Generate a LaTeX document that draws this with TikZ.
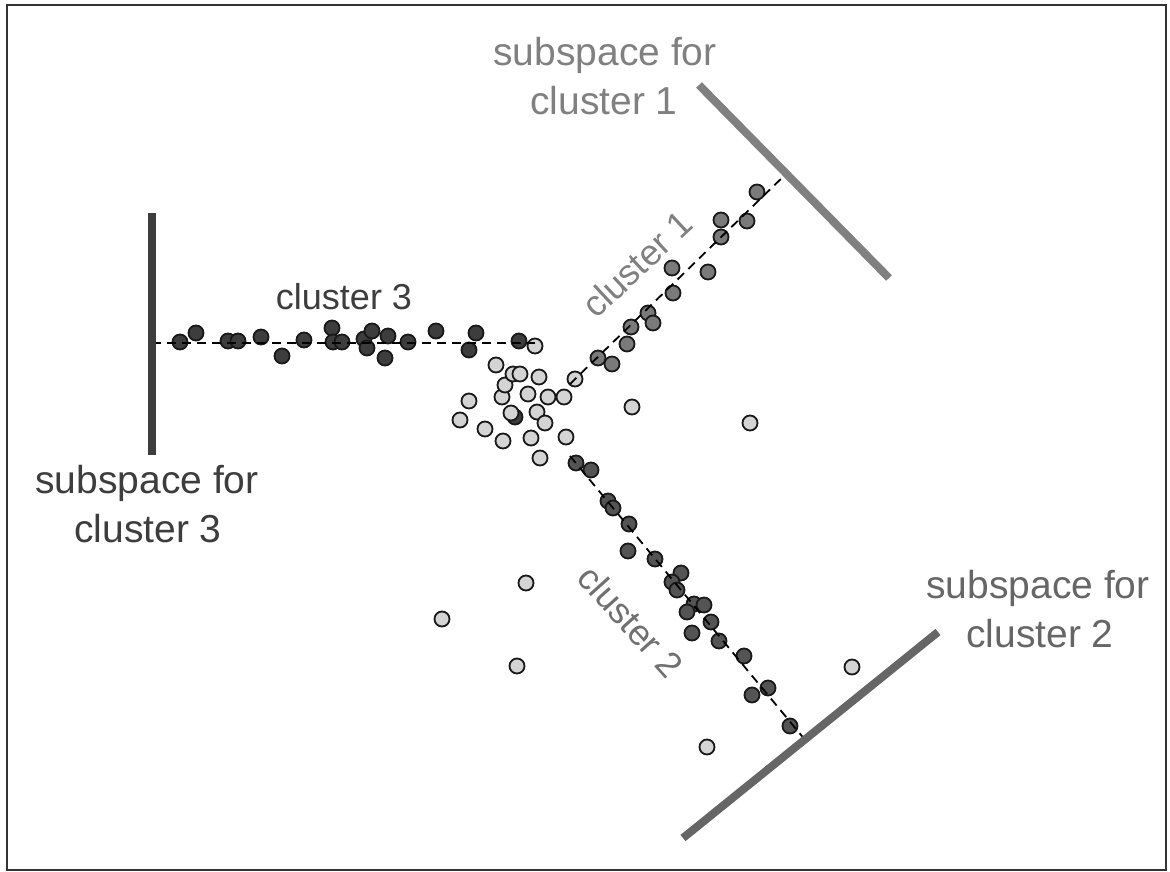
\documentclass[tikz,border=0pt]{standalone}
\usepackage{fontspec}
\setmainfont{Liberation Sans}
\begin{document}
\begin{tikzpicture}[x=1pt,y=-1pt,
  dot/.style={circle,draw=black!90,line width=1.8pt,minimum size=15pt,inner sep=0pt},
  cA/.style={dot,fill=black!52},
  cB/.style={dot,fill=black!67},
  cC/.style={dot,fill=black!76},
  cO/.style={dot,fill=black!17},
  subsp/.style={line width=8pt},
  fit line/.style={dashed,dash pattern=on 9pt off 6pt,line width=1.8pt},
  biglbl/.style={font=\fontsize{39}{49}\selectfont,anchor=base,inner sep=0pt},
  clbl/.style={font=\fontsize{36}{42}\selectfont,inner sep=0pt}]
\useasboundingbox (0,0) rectangle (1170,872);
\fill[white] (0,0) rectangle (1170,872);
\draw[line width=2pt,black!80] (7,5) rectangle (1166,870);

% subspace segments
\coordinate (s1a) at (699,85);  \coordinate (s1b) at (889,278);
\coordinate (s2a) at (683,838); \coordinate (s2b) at (938,632);
\coordinate (s3a) at (152,213); \coordinate (s3b) at (152,455);
% ends of the fitted lines
\coordinate (f3a) at (152,343); \coordinate (f3b) at (535,343);
\coordinate (f1a) at (570,384); \coordinate (f1b) at (788,172);
\coordinate (f2a) at (570,456); \coordinate (f2b) at (806,741);

% unassigned / central points
\foreach \p [count=\i] in {(460,420),(469,401),(485,429),(496,365),(502,397),(503,441),
  (505,385),(513,374),(520,374),(528,394),(531,438),(537,412),(545,423),(539,377),
  (548,397),(564,397),(566,437),(540,458),(535,346),(575,379),(632,407),(750,423),
  (526,583),(442,619),(517,666),(852,667),(707,747)}
  \node[cO] (o\i) at \p {};
\node[cC] (c3x) at (515,417) {};
\node[cO] (oc) at (511,413) {};

% cluster 3
\foreach \p [count=\i] in {(180,342),(196,333),(228,341),(238,341),(261,337),(282,356),
  (304,340),(332,328),(333,342),(342,342),(364,339),(372,331),(367,348),(388,336),
  (385,358),(408,342),(436,331),(469,350),(476,333),(519,341)}
  \node[cC] (k\i) at \p {};
% cluster 1
\foreach \p [count=\i] in {(598,358),(612,364),(627,344),(631,327),(648,313),(653,323),
  (673,293),(672,268),(708,272),(721,237),(721,220),(747,221),(757,192)}
  \node[cA] (a\i) at \p {};
% cluster 2
\foreach \p [count=\i] in {(576,463),(591,470),(608,501),(613,508),(629,524),(628,551),
  (655,559),(681,573),(672,582),(677,590),(694,604),(704,605),(687,612),(711,622),
  (692,633),(719,641),(744,656),(768,688),(752,695),(790,726)}
  \node[cB] (b\i) at \p {};

% fitted lines
\draw[fit line] (f3a) -- (f3b);
\draw[fit line] (f1a) -- (f1b);
\draw[fit line] (f2a) -- (f2b);

% subspaces
\draw[subsp,black!50] (s1a) -- (s1b);
\draw[subsp,black!60] (s2a) -- (s2b);
\draw[subsp,black!76] (s3a) -- (s3b);

% labels
\node[biglbl,text=black!50] (t1a) at (605,66) {subspace for};
\node[biglbl,text=black!50] (t1b) at (604,115) {cluster 1};
\node[biglbl,text=black!60] (t2a) at (1038,598) {subspace for};
\node[biglbl,text=black!60] (t2b) at (1040,647) {cluster 2};
\node[biglbl,text=black!76] (t3a) at (147,493) {subspace for};
\node[biglbl,text=black!76] (t3b) at (148,542) {cluster 3};

\node[clbl,text=black!50,rotate=43] (l1) at (637,264) {cluster 1};
\node[clbl,text=black!56,rotate=-48] (l2) at (631,621) {cluster 2};
\node[clbl,text=black!76] (l3) at (344,297) {cluster 3};
\end{tikzpicture}
\end{document}
